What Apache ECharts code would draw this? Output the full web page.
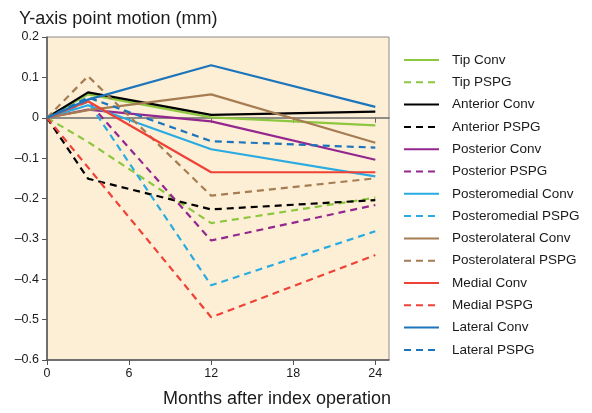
<!DOCTYPE html>
<html>
<head>
<meta charset="utf-8">
<script src="https://cdn.jsdelivr.net/npm/echarts@6/dist/echarts.min.js"></script>
<style>
  html, body { margin: 0; padding: 0; background: #fff; }
  #chart { width: 592px; height: 413px; }
</style>
</head>
<body>
<div id="chart"></div>
<script>
// Follow-up months
const months = [0, 3, 12, 24];

// Y-axis point motion (mm) per measuring point and technique
const tipConv            = [0,  0.058,  0.001, -0.019];
const tipPSPG            = [0, -0.060, -0.261, -0.198];
const anteriorConv       = [0,  0.063,  0.007,  0.015];
const anteriorPSPG       = [0, -0.151, -0.227, -0.204];
const posteriorConv      = [0,  0.020, -0.009, -0.104];
const posteriorPSPG      = [0,  0.040, -0.304, -0.216];
const posteromedialConv  = [0,  0.031, -0.078, -0.145];
const posteromedialPSPG  = [0,  0.040, -0.415, -0.281];
const posterolateralConv = [0,  0.019,  0.058, -0.062];
const posterolateralPSPG = [0,  0.103, -0.193, -0.150];
const medialConv         = [0,  0.041, -0.135, -0.135];
const medialPSPG         = [0, -0.123, -0.494, -0.340];
const lateralConv        = [0,  0.045,  0.130,  0.027];
const lateralPSPG        = [0,  0.050, -0.058, -0.074];

const xTicks = [0, 6, 12, 18, 24];
const yTicks = [0.2, 0.1, 0, -0.1, -0.2, -0.3, -0.4, -0.5, -0.6];

const seriesDefs = [
  ['Tip Conv', tipConv, '#8dc63f', false],
  ['Tip PSPG', tipPSPG, '#8dc63f', true],
  ['Anterior Conv', anteriorConv, '#000000', false],
  ['Anterior PSPG', anteriorPSPG, '#000000', true],
  ['Posterior Conv', posteriorConv, '#93278f', false],
  ['Posterior PSPG', posteriorPSPG, '#93278f', true],
  ['Posteromedial Conv', posteromedialConv, '#29abe2', false],
  ['Posteromedial PSPG', posteromedialPSPG, '#29abe2', true],
  ['Posterolateral Conv', posterolateralConv, '#a67c52', false],
  ['Posterolateral PSPG', posterolateralPSPG, '#a67c52', true],
  ['Medial Conv', medialConv, '#ef4136', false],
  ['Medial PSPG', medialPSPG, '#ef4136', true],
  ['Lateral Conv', lateralConv, '#1c75bc', false],
  ['Lateral PSPG', lateralPSPG, '#1c75bc', true]
];

const FONT = 'Liberation Sans, Arial, Helvetica, sans-serif';

const series = seriesDefs.map(([name, vals, color, dashed]) => ({
  name,
  type: 'line',
  xAxisIndex: 0,
  yAxisIndex: 0,
  data: months.map((m, i) => [m, vals[i]]),
  showSymbol: false,
  symbol: 'none',
  animation: false,
  itemStyle: { color },
  lineStyle: { color, width: 2.2, type: dashed ? [7, 5] : 'solid' }
}));

const chart = echarts.init(document.getElementById('chart'));
chart.setOption({
  animation: false,
  textStyle: { fontFamily: FONT },
  title: {
    text: 'Y-axis point motion (mm)',
    left: 14,
    top: 5,
    textStyle: { fontFamily: FONT, fontSize: 18, fontWeight: 'normal', color: '#1a1a1a' }
  },
  grid: {
    left: 47, right: 203, top: 37, bottom: 47,
    show: true,
    backgroundColor: '#fdefd5',
    borderColor: '#8a8a8a',
    borderWidth: 1
  },
  legend: {
    orient: 'vertical',
    left: 398,
    top: 48,
    itemWidth: 35,
    itemHeight: 14,
    itemGap: 8.3,
    itemStyle: { opacity: 0, borderWidth: 0 },
    textStyle: { fontFamily: FONT, fontSize: 13.5, lineHeight: 14, color: '#1a1a1a', padding: [0, 0, 0, 8] },
    data: seriesDefs.map(d => d[0])
  },
  xAxis: [
    {
      type: 'value',
      min: 0, max: 25,
      interval: 6,
      position: 'bottom',
      name: 'Months after index operation',
      nameLocation: 'middle',
      nameGap: 30,
      nameTextStyle: { fontFamily: FONT, fontSize: 18, color: '#1a1a1a', padding: [0, 0, 0, 118] },
      splitLine: { show: false },
      axisLine: { onZero: false, lineStyle: { color: '#555', width: 1.5 } },
      axisTick: { show: true, length: 5, customValues: xTicks, lineStyle: { color: '#555' } },
      axisLabel: { customValues: xTicks, fontFamily: FONT, fontSize: 12.5, color: '#1a1a1a', margin: 7 }
    },
    {
      // zero reference line across the plot, with its own ticks
      type: 'value',
      min: 0, max: 25,
      interval: 6,
      position: 'bottom',
      splitLine: { show: false },
      axisLine: { onZero: true, onZeroAxisIndex: 0, lineStyle: { color: '#6b6b6b', width: 1.5 } },
      axisTick: { show: true, length: 5, customValues: xTicks, lineStyle: { color: '#6b6b6b' } },
      axisLabel: { show: false }
    }
  ],
  yAxis: {
    type: 'value',
    min: -0.6, max: 0.2,
    interval: 0.1,
    splitLine: { show: false },
    axisLine: { lineStyle: { color: '#555', width: 1.5 } },
    axisTick: { show: true, length: 5, customValues: yTicks, lineStyle: { color: '#555' } },
    axisLabel: {
      customValues: yTicks,
      fontFamily: FONT, fontSize: 12.5, color: '#1a1a1a', margin: 8,
      formatter: v => {
        const r = Math.round(v * 10) / 10;
        if (r === 0) return '0';
        return (r < 0 ? '\u2013' : '') + Math.abs(r).toFixed(1);
      }
    }
  },
  series
});
</script>
</body>
</html>
